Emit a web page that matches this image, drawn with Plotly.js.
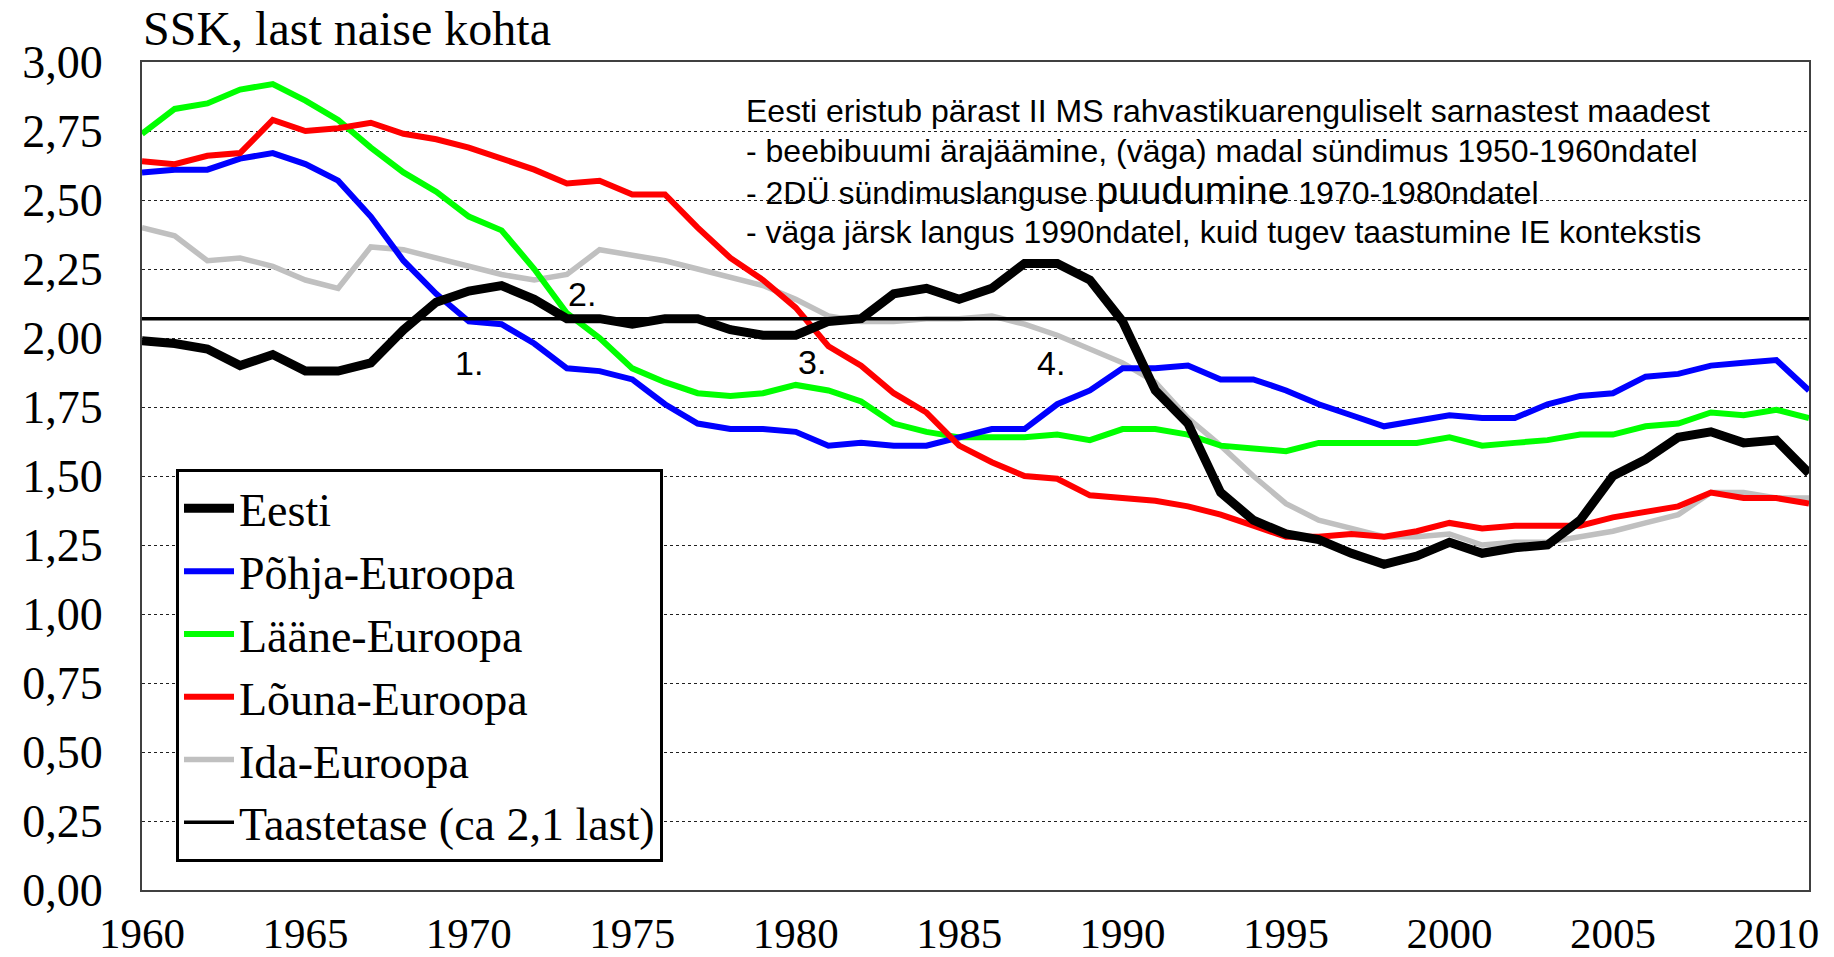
<!DOCTYPE html>
<html>
<head>
<meta charset="utf-8">
<script src="https://cdn.plot.ly/plotly-3.0.1.min.js"></script>
<style>
html, body { margin: 0; padding: 0; background: #ffffff; }
#chart { width: 1834px; height: 957px; }
</style>
</head>
<body>
<div id="chart"></div>
<script>
// ---- data ----
const years = [1960,1961,1962,1963,1964,1965,1966,1967,1968,1969,
               1970,1971,1972,1973,1974,1975,1976,1977,1978,1979,
               1980,1981,1982,1983,1984,1985,1986,1987,1988,1989,
               1990,1991,1992,1993,1994,1995,1996,1997,1998,1999,
               2000,2001,2002,2003,2004,2005,2006,2007,2008,2009,
               2010,2011];

const eesti = [1.99,1.98,1.96,1.90,1.94,1.88,1.88,1.91,2.03,2.13,
               2.17,2.19,2.14,2.07,2.07,2.05,2.07,2.07,2.03,2.01,
               2.01,2.06,2.07,2.16,2.18,2.14,2.18,2.27,2.27,2.21,
               2.06,1.81,1.69,1.44,1.34,1.29,1.27,1.22,1.18,1.21,
               1.26,1.22,1.24,1.25,1.34,1.50,1.56,1.64,1.66,1.62,
               1.63,1.51];

const pohja = [2.60,2.61,2.61,2.65,2.67,2.63,2.57,2.44,2.28,2.16,
               2.06,2.05,1.98,1.89,1.88,1.85,1.76,1.69,1.67,1.67,
               1.66,1.61,1.62,1.61,1.61,1.64,1.67,1.67,1.76,1.81,
               1.89,1.89,1.90,1.85,1.85,1.81,1.76,1.72,1.68,1.70,
               1.72,1.71,1.71,1.76,1.79,1.80,1.86,1.87,1.90,1.91,
               1.92,1.81];

const laane = [2.74,2.83,2.85,2.90,2.92,2.86,2.79,2.69,2.60,2.53,
               2.44,2.39,2.25,2.09,2.00,1.89,1.84,1.80,1.79,1.80,
               1.83,1.81,1.77,1.69,1.66,1.64,1.64,1.64,1.65,1.63,
               1.67,1.67,1.65,1.61,1.60,1.59,1.62,1.62,1.62,1.62,
               1.64,1.61,1.62,1.63,1.65,1.65,1.68,1.69,1.73,1.72,
               1.74,1.71];

const louna = [2.64,2.63,2.66,2.67,2.79,2.75,2.76,2.78,2.74,2.72,
               2.69,2.65,2.61,2.56,2.57,2.52,2.52,2.40,2.29,2.21,
               2.11,1.97,1.90,1.80,1.73,1.61,1.55,1.50,1.49,1.43,
               1.42,1.41,1.39,1.36,1.32,1.28,1.28,1.29,1.28,1.30,
               1.33,1.31,1.32,1.32,1.32,1.35,1.37,1.39,1.44,1.42,
               1.42,1.40];

const ida = [2.40,2.37,2.28,2.29,2.26,2.21,2.18,2.33,2.32,2.29,
             2.26,2.23,2.21,2.23,2.32,2.30,2.28,2.25,2.22,2.19,
             2.14,2.08,2.06,2.06,2.07,2.07,2.08,2.05,2.01,1.96,
             1.91,1.84,1.71,1.61,1.50,1.40,1.34,1.31,1.28,1.28,
             1.29,1.25,1.26,1.26,1.28,1.30,1.33,1.36,1.44,1.44,
             1.42,1.42];

const taastetaseYears = [1960, 2011];
const taastetase = [2.07, 2.07];

const seriesNames = ['Eesti', 'Põhja-Euroopa', 'Lääne-Euroopa', 'Lõuna-Euroopa', 'Ida-Euroopa', 'Taastetase (ca 2,1 last)'];

const xTickVals = [1960, 1965, 1970, 1975, 1980, 1985, 1990, 1995, 2000, 2005, 2010];
const xTickText = ['1960', '1965', '1970', '1975', '1980', '1985', '1990', '1995', '2000', '2005', '2010'];
const yTickVals = [0, 0.25, 0.5, 0.75, 1, 1.25, 1.5, 1.75, 2, 2.25, 2.5, 2.75, 3];
const yTickText = ['0,00', '0,25', '0,50', '0,75', '1,00', '1,25', '1,50', '1,75', '2,00', '2,25', '2,50', '2,75', '3,00'];

const chartTitle = 'SSK, last naise kohta';
const noteLines = [
  'Eesti eristub pärast II MS rahvastikuarenguliselt sarnastest maadest',
  '- beebibuumi ärajäämine, (väga) madal sündimus 1950-1960ndatel',
  '- 2DÜ sündimuslanguse <span style="font-size:39px">puudumine</span> 1970-1980ndatel',
  '- väga järsk langus 1990ndatel, kuid tugev taastumine IE kontekstis'
];
const markerLabels = ['1.', '2.', '3.', '4.'];
const markerX = [1970.0, 1973.45, 1980.5, 1987.8];
const markerY = [1.91, 2.16, 1.912, 1.908];

// ---- chart ----
const serif = 'Liberation Serif, Times New Roman, serif';
const sans = 'Liberation Sans, Arial, sans-serif';

function lineTrace(x, y, name, color, width, rank) {
  return { x: x, y: y, name: name, type: 'scatter', mode: 'lines',
           line: { color: color, width: width }, legendrank: rank,
           hoverinfo: 'skip' };
}

const traces = [
  lineTrace(years, ida, seriesNames[4], '#c0c0c0', 5.5, 5),
  lineTrace(years, laane, seriesNames[2], '#00ff00', 6, 3),
  lineTrace(years, pohja, seriesNames[1], '#0000ff', 6, 2),
  lineTrace(years, louna, seriesNames[3], '#ff0000', 6, 4),
  lineTrace(taastetaseYears, taastetase, seriesNames[5], '#000000', 3.5, 6),
  lineTrace(years, eesti, seriesNames[0], '#000000', 9, 1)
];

const noteY = [0.9408, 0.8931, 0.8454, 0.7943];
const annotations = noteLines.map((t, i) => ({
  text: t, xref: 'paper', yref: 'paper', x: 0.3611, y: noteY[i],
  xanchor: 'left', yanchor: 'middle', showarrow: false,
  font: { family: sans, size: 32, color: '#000' }
})).concat(markerLabels.map((t, i) => ({
  text: t, xref: 'x', yref: 'y', x: markerX[i], y: markerY[i],
  xanchor: 'center', yanchor: 'middle', showarrow: false,
  font: { family: sans, size: 34, color: '#000' }
})));

const layout = {
  width: 1834, height: 957,
  margin: { l: 142, r: 25, t: 62, b: 67, pad: 0 },
  paper_bgcolor: '#ffffff', plot_bgcolor: '#ffffff',
  hovermode: false,
  title: {
    text: chartTitle,
    font: { family: serif, size: 48, color: '#000' },
    xref: 'container', yref: 'container',
    x: 143 / 1834, xanchor: 'left',
    y: 1 - 11 / 957, yanchor: 'top'
  },
  xaxis: {
    range: [1960, 2011], tickvals: xTickVals, ticktext: xTickText,
    showgrid: false, zeroline: false,
    showline: true, mirror: true, linecolor: '#404040', linewidth: 2,
    ticks: '', ticklabelstandoff: 4,
    tickfont: { family: serif, size: 43, color: '#000' }
  },
  yaxis: {
    range: [0, 3], tickvals: yTickVals, ticktext: yTickText,
    showgrid: true, gridcolor: '#202020', gridwidth: 1, griddash: 'dot',
    zeroline: false,
    showline: true, mirror: true, linecolor: '#404040', linewidth: 2,
    ticks: '', ticklabelstandoff: 28,
    tickfont: { family: serif, size: 46, color: '#000' }
  },
  showlegend: true,
  legend: {
    x: 0.0204, y: 0.5085, xanchor: 'left', yanchor: 'top',
    bgcolor: '#ffffff', bordercolor: '#000000', borderwidth: 3,
    font: { family: serif, size: 46, color: '#000' },
    itemwidth: 50, traceorder: 'normal'
  },
  annotations: annotations
};

Plotly.newPlot('chart', traces, layout, { displayModeBar: false, staticPlot: true });
</script>
</body>
</html>
